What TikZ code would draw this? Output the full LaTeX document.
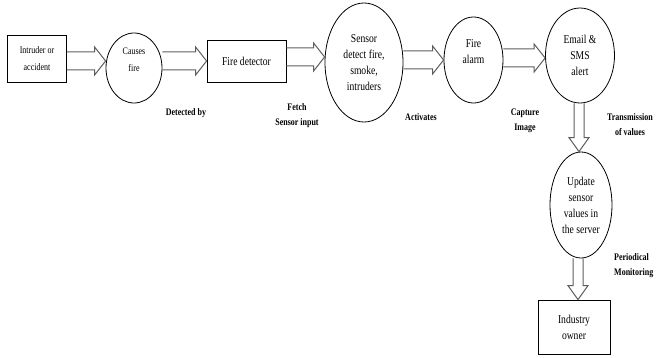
\documentclass[tikz,border=0pt]{standalone}
\usepackage{fontspec}
\setmainfont{Liberation Serif}[FakeStretch=0.8]
\usetikzlibrary{shapes.geometric,calc}
\definecolor{arrowgray}{HTML}{5E5E5E}

% hollow block arrow, left to right, at height #3
\newcommand\hflow[3]{%
  \draw[flow] let \p1=(#1.east), \p2=(#2.west), \p3=(0,#3) in
    (\x1,\y3+9pt) -- (\x2-11pt,\y3+9pt) -- (\x2-11pt,\y3+14pt) -- (\x2,\y3)
    -- (\x2-11pt,\y3-14pt) -- (\x2-11pt,\y3-9pt) -- (\x1,\y3-9pt);}
% hollow block arrow, top to bottom, at x #3
\newcommand\vflow[3]{%
  \draw[flow] let \p1=(#1.south), \p2=(#2.north), \p3=(#3,0) in
    (\x3-5pt,\y1) -- (\x3-5pt,\y2+14pt) -- (\x3-10pt,\y2+14pt) -- (\x3,\y2)
    -- (\x3+10pt,\y2+14pt) -- (\x3+5pt,\y2+14pt) -- (\x3+5pt,\y1);}

\begin{document}
\begin{tikzpicture}[
  x=1pt, y=-1pt,
  box/.style={draw, line width=0.8pt, align=center, inner sep=1pt,
    font=\fontsize{12}{16}\selectfont},
  smallbox/.style={box, font=\fontsize{10}{17}\selectfont},
  oval/.style={box, ellipse},
  flow/.style={draw=arrowgray, line width=1pt, line join=miter},
  lbl/.style={align=center, inner sep=0pt, font=\bfseries\fontsize{10}{15}\selectfont}
]
\path[use as bounding box, fill=white] (0,0) rectangle (657,358);

\node[smallbox, minimum width=59pt, minimum height=47pt] (intruder) at (37,58.5) {Intruder or\\accident};
\node[smallbox, ellipse, minimum width=56pt, minimum height=70pt] (causes) at (134,68) {Causes\\fire\\\mbox{}};
\node[box, minimum width=79pt, minimum height=42pt] (detector) at (246.5,61) {Fire detector};
\node[oval, minimum width=78pt, minimum height=119pt] (sensor) at (364,62.5) {Sensor\\detect fire,\\smoke,\\intruders};
\node[oval, minimum width=59pt, minimum height=86pt] (alarm) at (473.5,60) {Fire\\alarm\\\mbox{}};
\node[oval, minimum width=69pt, minimum height=95pt] (alert) at (580,55.5) {Email \&\\SMS\\alert};
\node[oval, minimum width=62pt, minimum height=106pt] (update) at (581,205) {Update\\sensor\\values in\\the server};
\node[box, minimum width=72pt, minimum height=54pt] (owner) at (574,327) {Industry\\owner};

\hflow{intruder}{causes}{61}
\hflow{causes}{detector}{61}
\hflow{detector}{sensor}{57}
\hflow{sensor}{alarm}{60}
\hflow{alarm}{alert}{58}
\vflow{alert}{update}{579}
\vflow{update}{owner}{578}

\node[lbl] (detected) at (186,113) {Detected by};
\node[lbl] (fetch) at (297,116) {Fetch\\Sensor input};
\node[lbl] (activates) at (421,117) {Activates};
\node[lbl] (capture) at (525,121) {Capture\\Image};
\node[lbl] (transmit) at (630,125) {Transmission\\of values};
\node[lbl, anchor=west, align=left] (monitor) at (614,266) {Periodical\\Monitoring};
\end{tikzpicture}
\end{document}
